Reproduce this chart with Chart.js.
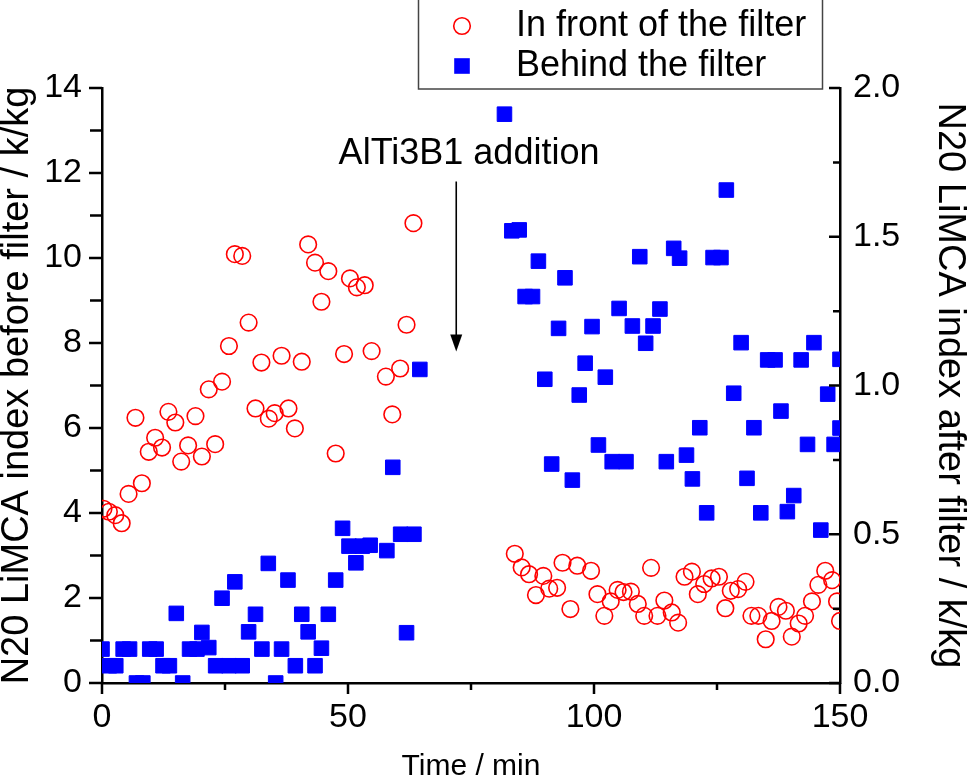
<!DOCTYPE html>
<html>
<head>
<meta charset="utf-8">
<script src="https://cdn.jsdelivr.net/npm/chart.js@4"></script>
<style>
  html, body { margin: 0; padding: 0; background: #fff; }
  #wrap { width: 967px; height: 780px; position: relative; }
</style>
</head>
<body>
<div id="wrap"><canvas id="myChart"></canvas></div>
<script>
// in front of the filter (left axis, k/kg)
const frontTime = [0.3, 1.4, 2.7, 4.0, 5.4, 6.8, 8.1, 9.5, 10.8, 12.2,
  13.5, 14.9, 16.1, 17.5, 19.0, 20.3, 21.7, 23.0, 24.4, 25.8,
  27.0, 28.5, 29.8, 31.2, 32.4, 33.9, 35.1, 36.5, 37.9, 39.2,
  40.6, 41.9, 43.3, 44.6, 46.0, 47.5, 49.2, 50.4, 51.8, 53.4,
  54.8, 57.7, 59.0, 60.6, 61.9, 63.3,
  83.9, 85.3, 86.8, 88.2, 89.7, 90.9, 92.5, 93.6, 95.2, 96.6,
  99.4, 100.7, 102.1, 103.4, 104.8, 106.0, 107.5, 108.9, 110.2, 111.6,
  112.9, 114.3, 115.8, 117.1, 118.4, 119.9, 121.1, 122.4, 123.9, 125.4,
  126.7, 127.8, 129.3, 130.8, 132.0, 133.4, 134.9, 136.1, 137.5, 139.0,
  140.2, 141.6, 142.9, 144.3, 145.6, 147.0, 148.4, 149.4, 150.0]
const frontValue = [4.10, 4.03, 3.95, 3.76, 4.45, 6.24, 4.70, 5.44, 5.77, 5.54,
  6.38, 6.13, 5.21, 5.59, 6.28, 5.33, 6.91, 5.62, 7.09, 7.93,
  10.09, 10.05, 8.48, 6.46, 7.54, 6.22, 6.35, 7.70, 6.46, 5.99,
  7.56, 10.32, 9.89, 8.97, 9.69, 5.40, 7.74, 9.52, 9.31, 9.36,
  7.81, 7.21, 6.32, 7.40, 8.43, 10.82,
  3.04, 2.72, 2.56, 2.07, 2.52, 2.22, 2.24, 2.83, 1.74, 2.76,
  2.64, 2.09, 1.58, 1.92, 2.19, 2.14, 2.15, 1.86, 1.58, 2.71,
  1.58, 1.94, 1.66, 1.42, 2.50, 2.62, 2.09, 2.33, 2.46, 2.50,
  1.76, 2.17, 2.21, 2.38, 1.58, 1.58, 1.03, 1.46, 1.79, 1.70,
  1.09, 1.40, 1.58, 1.92, 2.31, 2.64, 2.42, 1.92, 1.46]

// behind the filter (right axis, k/kg)
const behindTime = [0.0, 1.5, 2.8, 4.3, 5.6, 7.0, 8.3, 9.7, 11.0, 12.4,
  13.7, 15.1, 16.4, 17.8, 19.3, 20.3, 21.7, 23.1, 24.4, 25.8,
  27.0, 28.5, 29.8, 31.2, 32.5, 33.8, 35.3, 36.5, 37.8, 39.3,
  40.6, 41.9, 43.3, 44.6, 46.0, 47.5, 48.9, 50.2, 51.6, 52.9,
  54.5, 57.9, 59.1, 60.7, 61.9, 63.4, 64.6,
  81.8, 83.3, 84.8, 86.0, 87.5, 88.7, 90.0, 91.4, 92.8, 94.1,
  95.6, 97.0, 98.2, 99.6, 100.9, 102.3, 103.7, 105.1, 106.5, 107.8,
  109.3, 110.5, 112.0, 113.4, 114.7, 116.2, 117.4, 118.8, 120.0, 121.5,
  122.9, 124.2, 125.8, 126.9, 128.4, 129.9, 131.1, 132.5, 133.9, 135.3,
  136.8, 138.0, 139.3, 140.6, 142.1, 143.4, 144.7, 146.1, 147.5, 148.8,
  150.0, 150.0]
const behindValue = [0.114, 0.058, 0.058, 0.114, 0.114, 0.0, 0.0, 0.114, 0.114, 0.058,
  0.058, 0.234, 0.0, 0.114, 0.114, 0.170, 0.119, 0.058, 0.285, 0.058,
  0.340, 0.058, 0.172, 0.231, 0.114, 0.402, 0.0, 0.114, 0.346, 0.058,
  0.231, 0.172, 0.058, 0.117, 0.231, 0.346, 0.520, 0.460, 0.404, 0.460,
  0.463, 0.445, 0.725, 0.500, 0.169, 0.500, 1.054,
  1.912, 1.520, 1.523, 1.299, 1.299, 1.418, 1.021, 0.736, 1.192, 1.362,
  0.682, 0.968, 1.075, 1.198, 0.800, 1.028, 0.744, 1.259, 0.744, 1.200,
  1.433, 1.142, 1.200, 1.257, 0.744, 1.461, 1.428, 0.766, 0.686, 0.858,
  0.572, 1.430, 1.430, 1.657, 0.974, 1.144, 0.688, 0.858, 0.572, 1.086,
  1.086, 0.914, 0.576, 0.630, 1.086, 0.802, 1.144, 0.514, 0.971, 0.802,
  1.088, 0.857]

const xTicks = [0, 50, 100, 150]
const leftTicks = [0, 2, 4, 6, 8, 10, 12, 14]
const rightTicks = [0.0, 0.5, 1.0, 1.5, 2.0]

const seriesLabels = ['In front of the filter', 'Behind the filter']
const axisTitles = ['Time / min', 'N20 LiMCA index before filter / k/kg', 'N20 LiMCA index after filter / k/kg']

// AlTi3B1 addition marker (x in min, y on left axis)
const noteText = 'AlTi3B1 addition'
const noteTextAt = [74.6, 12.45]
const noteArrowX = 72.0
const noteArrowFrom = 11.8
const noteArrowTo = 7.8

const FONT = "'Liberation Sans', Arial, Helvetica, sans-serif"
Chart.defaults.font.family = FONT
Chart.defaults.color = '#000'

function toPoints(xs, ys) {
  return xs.map((x, i) => ({ x: x, y: ys[i] }))
}

// ticks drawn by hand: left/bottom outward, right inward, plus minors
const tickMarks = {
  id: 'tickMarks',
  afterDraw(chart) {
    const { ctx, chartArea } = chart
    const sx = chart.scales.x, sy = chart.scales.y, sy2 = chart.scales.y2
    ctx.save()
    ctx.strokeStyle = '#000'
    ctx.lineWidth = 2.5
    ctx.beginPath()
    for (let i = 0; i <= 6; i++) {
      const px = sx.getPixelForValue(i * 25)
      ctx.moveTo(px, chartArea.bottom)
      ctx.lineTo(px, chartArea.bottom + (i % 2 === 0 ? 11 : 7))
    }
    for (let i = 0; i <= 14; i++) {
      const py = sy.getPixelForValue(i)
      ctx.moveTo(chartArea.left, py)
      ctx.lineTo(chartArea.left - (i % 2 === 0 ? 13 : 12), py)
    }
    for (let i = 0; i <= 8; i++) {
      const py = sy2.getPixelForValue(i * 0.25)
      ctx.moveTo(chartArea.right, py)
      ctx.lineTo(chartArea.right - (i % 2 === 0 ? 11 : 7), py)
    }
    ctx.stroke()
    ctx.restore()
  }
}

// framed legend top right + annotation arrow
const extras = {
  id: 'extras',
  afterDraw(chart) {
    const { ctx } = chart
    const ds = chart.data.datasets
    ctx.save()
    ctx.strokeStyle = '#444'
    ctx.lineWidth = 1.5
    ctx.strokeRect(418.5, -1, 404, 90)

    ctx.font = '36px ' + FONT
    ctx.fillStyle = '#000'
    ctx.textBaseline = 'middle'
    ctx.textAlign = 'left'
    ctx.fillText(ds[0].label, 516, 26)
    ctx.fillText(ds[1].label, 516, 66)

    ctx.beginPath()
    ctx.arc(462, 26, ds[0].pointRadius, 0, Math.PI * 2)
    ctx.strokeStyle = ds[0].borderColor
    ctx.lineWidth = ds[0].borderWidth
    ctx.stroke()
    ctx.fillStyle = ds[1].backgroundColor
    ctx.fillRect(454.2, 58.2, 15.6, 15.6)

    // annotation
    const sx = chart.scales.x, sy = chart.scales.y
    ctx.fillStyle = '#000'
    ctx.textAlign = 'center'
    ctx.fillText(noteText, sx.getPixelForValue(noteTextAt[0]), sy.getPixelForValue(noteTextAt[1]))
    const ax = sx.getPixelForValue(noteArrowX)
    const y0 = sy.getPixelForValue(noteArrowFrom)
    const y1 = sy.getPixelForValue(noteArrowTo)
    ctx.strokeStyle = '#000'
    ctx.lineWidth = 1.6
    ctx.beginPath()
    ctx.moveTo(ax, y0)
    ctx.lineTo(ax, y1 - 14)
    ctx.stroke()
    ctx.beginPath()
    ctx.moveTo(ax - 6, y1 - 17)
    ctx.lineTo(ax + 6, y1 - 17)
    ctx.lineTo(ax, y1)
    ctx.closePath()
    ctx.fill()
    ctx.restore()
  }
}

const ctx = document.getElementById('myChart')

let data = {
  datasets: [{
    label: seriesLabels[0],
    data: toPoints(frontTime, frontValue),
    yAxisID: 'y',
    pointStyle: 'circle',
    pointRadius: 8.3,
    pointHoverRadius: 8.3,
    borderColor: '#ff0000',
    backgroundColor: 'rgba(0,0,0,0)',
    borderWidth: 1.6,
    clip: 0
  }, {
    label: seriesLabels[1],
    data: toPoints(behindTime, behindValue),
    yAxisID: 'y2',
    pointStyle: 'rect',
    pointRadius: 10.3,
    pointHoverRadius: 10.3,
    borderColor: '#0000ff',
    backgroundColor: '#0000ff',
    borderWidth: 1,
    clip: 0
  }]
}

const noGrid = { display: false, drawTicks: false, tickLength: 0 }

let config = {
  type: 'scatter',
  data: data,
  options: {
    responsive: true,
    maintainAspectRatio: false,
    animation: false,
    events: [],
    layout: { padding: { top: 88, left: 0, right: 0, bottom: 0 } },
    plugins: {
      legend: { display: false },
      tooltip: { enabled: false }
    },
    scales: {
      x: {
        type: 'linear',
        position: 'bottom',
        min: 0,
        max: 150,
        afterBuildTicks: s => { s.ticks = xTicks.map(v => ({ value: v })) },
        ticks: { font: { size: 34 }, color: '#000', padding: 14, maxRotation: 0, autoSkip: false },
        grid: noGrid,
        border: { display: true, color: '#000', width: 2.5 },
        title: { display: true, text: axisTitles[0], color: '#000', font: { size: 30, lineHeight: 0.87 }, padding: 0 },
        afterFit: s => { s.height = 97 }
      },
      y: {
        type: 'linear',
        position: 'left',
        min: 0,
        max: 14,
        afterBuildTicks: s => { s.ticks = leftTicks.map(v => ({ value: v })) },
        ticks: { font: { size: 34 }, color: '#000', padding: 20, autoSkip: false },
        grid: noGrid,
        border: { display: true, color: '#000', width: 2.5 },
        title: { display: true, text: axisTitles[1], color: '#000', font: { size: 38, lineHeight: 0.9 }, padding: 0 },
        afterFit: s => { s.width = 102 }
      },
      y2: {
        type: 'linear',
        position: 'right',
        min: 0,
        max: 2,
        afterBuildTicks: s => { s.ticks = rightTicks.map(v => ({ value: v })) },
        ticks: { font: { size: 34 }, color: '#000', padding: 13, autoSkip: false, callback: v => v.toFixed(1) },
        grid: noGrid,
        border: { display: true, color: '#000', width: 2.5 },
        title: { display: true, text: axisTitles[2], color: '#000', font: { size: 38, lineHeight: 0.9 }, padding: 0 },
        afterFit: s => { s.width = 127 }
      }
    }
  },
  plugins: [tickMarks, extras]
}

let chart = new Chart(ctx, config)
</script>
</body>
</html>
